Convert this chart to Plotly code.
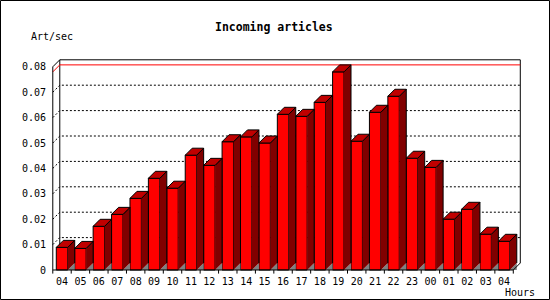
import plotly.graph_objects as go

# ---- data ----
hours = ["04", "05", "06", "07", "08", "09", "10", "11", "12", "13", "14", "15", "16",
         "17", "18", "19", "20", "21", "22", "23", "00", "01", "02", "03", "04"]
rates = [0.0089, 0.0085, 0.0172, 0.0219, 0.0282, 0.0361, 0.0322, 0.0452, 0.0412,
         0.0505, 0.0524, 0.0500, 0.0613, 0.0605, 0.0660, 0.0780, 0.0507, 0.0621,
         0.0684, 0.0440, 0.0404, 0.0200, 0.0239, 0.0141, 0.0113]
y_ticks = [0, 0.01, 0.02, 0.03, 0.04, 0.05, 0.06, 0.07, 0.08]
y_tick_text = ["0", "0.01", "0.02", "0.03", "0.04", "0.05", "0.06", "0.07", "0.08"]
title_text = "Incoming articles"
y_title = "Art/sec"
x_title = "Hours"

# ---- geometry (pixel layout) ----
W, H = 550, 300
L, R, T, B = 51, 523, 58, 274          # plot area edges in px
X0PX, UX = 62.0, 18.42                  # px of first bar centre, px per category
Y0PX, UY = 270.0, 2540.0                # px of value 0, px per unit value
xr0, xr1 = (L - X0PX) / UX, (R - X0PX) / UX
yr0, yr1 = (Y0PX - B) / UY, (Y0PX - T) / UY
DX, DY = 7 / UX, 7 / UY                 # 3D depth offset
HW = 0.31                               # half bar width
n = len(rates)
xs = list(range(n))
ymax_axis = y_ticks[-1]
xl_edge, xr_edge = -0.5, n - 0.5
mono = "DejaVu Sans Mono"

fig = go.Figure()

# front faces
fig.add_trace(go.Bar(x=xs, y=rates, width=2 * HW, marker=dict(color="#ff0000",
                     line=dict(color="black", width=1)), hoverinfo="skip"))

# top faces, side faces, floor triangles
tx, ty, sx, sy, fx, fy, ex, ey = [], [], [], [], [], [], [], []
for i, v in enumerate(rates):
    a, b = i - HW, i + HW
    tx += [a, a + DX, b + DX, b, a, None]
    ty += [v, v + DY, v + DY, v, v, None]
    sx += [b, b, b + DX, b + DX, None]
    sy += [0, v, v + DY, DY, None]
    ex += [b, b + DX, b + DX, None]
    ey += [v, v + DY, DY, None]
    fx += [b, b + DX, b + DX, b, None]
    fy += [0, DY, 0, 0, None]

fig.add_trace(go.Scatter(x=fx, y=fy, mode="lines", fill="toself", fillcolor="#808080",
                         line=dict(width=0, color="#808080"), hoverinfo="skip"))
fig.add_trace(go.Scatter(x=sx, y=sy, mode="lines", fill="toself", fillcolor="#800000",
                         line=dict(width=0, color="#800000"), hoverinfo="skip"))
fig.add_trace(go.Scatter(x=ex, y=ey, mode="lines", line=dict(width=1, color="black"),
                         hoverinfo="skip"))
fig.add_trace(go.Scatter(x=tx, y=ty, mode="lines", fill="toself", fillcolor="#c00000",
                         line=dict(width=1, color="black"), hoverinfo="skip"))

# front axes
fig.add_trace(go.Scatter(x=[xl_edge + DX, xl_edge, xl_edge, xr_edge, xr_edge + DX],
                         y=[ymax_axis + DY, ymax_axis, 0, 0, DY], mode="lines",
                         line=dict(width=1, color="black"), hoverinfo="skip"))
# x tick marks at category boundaries
kx, ky = [], []
for k in range(n + 1):
    kx += [k - 0.5, k - 0.5, None]
    ky += [0, -3.6 / UY, None]
fig.add_trace(go.Scatter(x=kx, y=ky, mode="lines", line=dict(width=1, color="black"),
                         hoverinfo="skip"))

shapes = []
# back grid lines (dotted) with 3D connector
for v in y_ticks[1:-1]:
    shapes.append(dict(type="path", layer="below",
                       path=f"M {xl_edge},{v} L {xl_edge + DX},{v + DY} L {xr_edge + DX},{v + DY}",
                       line=dict(color="black", width=1, dash="2px,2px")))
# back frame
shapes.append(dict(type="path", layer="below",
                   path=(f"M {xl_edge + DX},{DY} L {xl_edge + DX},{ymax_axis + DY} "
                         f"L {xr_edge + DX},{ymax_axis + DY} L {xr_edge + DX},{DY}"),
                   line=dict(color="black", width=1)))
# max line (red)
mx = max(rates)
shapes.append(dict(type="path", layer="below",
                   path=f"M {xl_edge},{mx} L {xl_edge + DX},{mx + DY} L {xr_edge + DX},{mx + DY}",
                   line=dict(color="#ff0000", width=1)))
# image border
pw, ph = R - L, B - T
shapes.append(dict(type="rect", xref="paper", yref="paper",
                   x0=(0.5 - L) / pw, x1=(549.5 - L) / pw,
                   y0=(B - 299.5) / ph, y1=(B - 0.5) / ph,
                   line=dict(color="black", width=1)))

annotations = [
    dict(text=f"<b>{title_text}</b>", xref="paper", yref="paper",
         x=(274 - L) / pw, y=(B - 27) / ph, xanchor="center", yanchor="middle",
         showarrow=False, font=dict(family=mono, size=11.5, color="black")),
    dict(text=y_title, xref="paper", yref="paper",
         x=(29 - L) / pw, y=(B - 37) / ph, xanchor="left", yanchor="middle",
         showarrow=False, font=dict(family=mono, size=10, color="black")),
    dict(text=x_title, xref="paper", yref="paper",
         x=(503 - L) / pw, y=(B - 292) / ph, xanchor="left", yanchor="middle",
         showarrow=False, font=dict(family=mono, size=10, color="black")),
]

fig.update_layout(
    width=W, height=H, autosize=False,
    margin=dict(l=L, r=W - R, t=T, b=H - B, pad=0),
    paper_bgcolor="white", plot_bgcolor="white",
    showlegend=False, shapes=shapes, annotations=annotations,
    xaxis=dict(range=[xr0, xr1], tickvals=xs, ticktext=hours, ticks="",
               showgrid=False, zeroline=False, showline=False, fixedrange=True,
               tickfont=dict(family=mono, size=10, color="black"), ticklabelstandoff=0),
    yaxis=dict(range=[yr0, yr1], tickvals=y_ticks, ticktext=y_tick_text, ticks="",
               showgrid=False, zeroline=False, showline=False, fixedrange=True,
               tickfont=dict(family=mono, size=10, color="black"), ticklabelstandoff=4),
)

fig.write_html("out.html")
